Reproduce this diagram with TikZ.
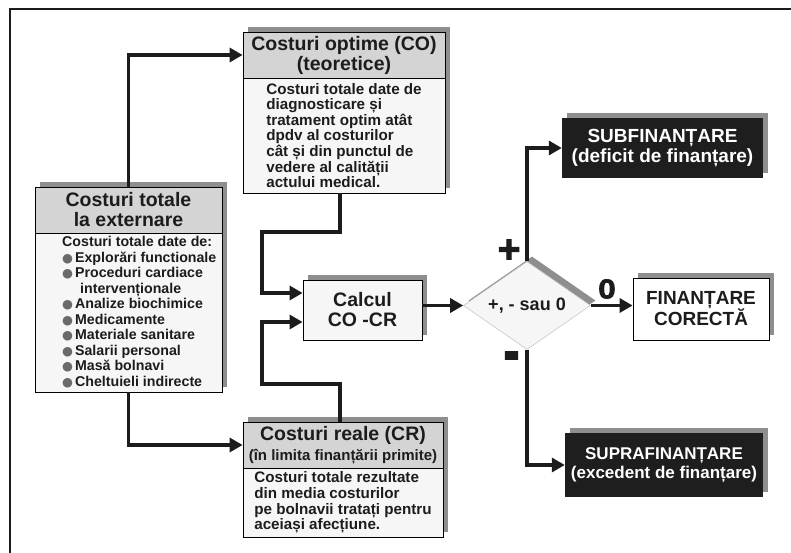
\documentclass[tikz,border=0pt]{standalone}
\usepackage{fontspec}
\usepackage{graphicx}
\setmainfont{Liberation Sans}
\newfontfamily\symbolfont{DejaVu Sans}
\newfontfamily\heavyfont{Liberation Sans Bold}[FakeBold=2.5]
\usetikzlibrary{arrows.meta,shapes.geometric,shadows}

\definecolor{ink}{HTML}{1C1C1C}
\definecolor{headfill}{HTML}{D4D4D4}
\definecolor{bodyfill}{HTML}{F6F6F6}
\definecolor{shade}{HTML}{8E8E8E}
\definecolor{darkfill}{HTML}{1E1E1E}
\definecolor{bulgray}{HTML}{6A6A6A}
\definecolor{diaedge}{HTML}{C8C8C8}

\newcommand{\headsize}{\fontsize{19.5pt}{20pt}\selectfont}
\newcommand{\bodysize}{\fontsize{15.2pt}{15.6pt}\selectfont}
\newcommand{\listsize}{\fontsize{14.2pt}{15.5pt}\selectfont}
\newcommand{\subsize}{\fontsize{15pt}{16pt}\selectfont}
\newcommand{\signsize}{\fontsize{26pt}{26pt}\selectfont}
\newcommand{\bul}{{\symbolfont\fontsize{12.5pt}{12.5pt}\selectfont\textcolor{bulgray}{●}}\hspace{2pt}}

\tikzset{
  boxline/.style={draw=black, line width=0.8pt},
  shadowed/.style={drop shadow={shadow xshift=5pt, shadow yshift=5pt, fill=shade, opacity=1}},
  headbox/.style={boxline, shadowed, fill=headfill, inner sep=0pt, align=center,
    text=ink, font=\headsize\bfseries},
  bodybox/.style={boxline, shadowed, fill=bodyfill, inner sep=0pt, align=left,
    text=ink, font=\bodysize\bfseries},
  listtext/.style={inner sep=0pt, align=left, text=ink, font=\listsize\bfseries},
  calcbox/.style={boxline, shadowed, fill=bodyfill, inner sep=0pt, align=center,
    text=ink, font=\headsize\bfseries},
  decision/.style={diamond, draw=diaedge, line width=0.6pt, fill=bodyfill, shadowed,
    inner sep=0pt, aspect=1.44, text=ink, font=\fontsize{18pt}{18pt}\selectfont\bfseries},
  darkbox/.style={shadowed, fill=darkfill, inner sep=0pt, align=center,
    text=white, font=\fontsize{19pt}{19.5pt}\selectfont\bfseries},
  lightbox/.style={boxline, shadowed, fill=white, inner sep=0pt, align=center,
    text=ink, font=\fontsize{19pt}{21pt}\selectfont\bfseries},
  flow/.style={draw=ink, line width=3.6pt, -{Triangle[length=13pt, width=14pt]}},
  signlabel/.style={inner sep=0pt, text=ink, font=\heavyfont\signsize},
}

\begin{document}
\begin{tikzpicture}[x=1pt, y=-1pt]
  \clip (0,0) rectangle (791,553);
  \fill[white] (0,0) rectangle (791,553);

  % outer frame
  \draw[ink, line width=2.6pt] (10,9) rectangle (830,590);

  % optimal costs
  \node[bodybox, minimum width=202pt, minimum height=115pt] (cobody) at (344,135.5)
    {Costuri totale date de\\diagnosticare și\\tratament optim atât\\dpdv al costurilor\\cât și din punctul de\\vedere al calității\\actului medical.};
  \node[headbox, minimum width=202pt, minimum height=46pt] (cohead) at (344,55)
    {Costuri optime (CO)\\(teoretice)};

  % total costs at discharge
  \node[bodybox, minimum width=187pt, minimum height=159pt] (totbody) at (128.5,312.5) {};
  \node[headbox, minimum width=187pt, minimum height=46pt] (tothead) at (128.5,210)
    {Costuri totale\\la externare};
  \node[listtext, anchor=west] (totlist) at (62,312)
    {Costuri totale date de:\\
     \bul Explorări functionale\\
     \bul Proceduri cardiace\\
     \hspace*{18pt}intervenționale\\
     \bul Analize biochimice\\
     \bul Medicamente\\
     \bul Materiale sanitare\\
     \bul Salarii personal\\
     \bul Masă bolnavi\\
     \bul Cheltuieli indirecte};

  % real costs
  \node[bodybox, minimum width=200pt, minimum height=69pt] (crbody) at (343,502.5)
    {Costuri totale rezultate\\din media costurilor\\pe bolnavii tratați pentru\\aceiași afecțiune.};
  \node[headbox, minimum width=200pt, minimum height=46pt] (crhead) at (343,445)
    {Costuri reale (CR)\\{\subsize(în limita finanțării primite)}};

  % difference and decision
  \node[calcbox, minimum width=119pt, minimum height=60pt] (calc) at (362.5,310)
    {Calcul\\CO -CR};
  \node[decision, minimum width=127pt, minimum height=88pt] (dia) at (527,305.5)
    {+, - sau 0};

  % outcomes
  \node[darkbox, minimum width=201pt, minimum height=60pt] (sub) at (662.5,148)
    {SUBFINANȚARE\\(deficit de finanțare)};
  \node[lightbox, minimum width=136pt, minimum height=62pt] (fin) at (701,309)
    {FINANȚARE\\CORECTĂ};
  \node[darkbox, minimum width=198pt, minimum height=64pt,
        font=\fontsize{17pt}{18.5pt}\selectfont\bfseries] (supra) at (664,465)
    {SUPRAFINANȚARE\\(excedent de finanțare)};

  % routing points
  \coordinate (bendA) at (262,232);
  \coordinate (bendB) at (262,384);

  % connectors
  \draw[flow] (tothead.north) |- (cohead.west);
  \draw[flow] (totbody.south) |- (crhead.west);
  \draw[flow] ([xshift=-4pt]cobody.south) |- (bendA) |- ([yshift=17pt]calc.west);
  \draw[flow] ([xshift=-3pt]crhead.north) |- (bendB) |- ([yshift=-12pt]calc.west);
  \draw[flow] (calc.east |- dia.west) -- (dia.west);
  \draw[flow] (dia.north) |- (sub.west);
  \draw[flow] (dia.east) -- (dia.east -| fin.west);
  \draw[flow] (dia.south) |- (supra.west);

  % branch signs
  \node[signlabel] (plus) at (509,251) {\scalebox{1.5}{+}};
  \node[signlabel] (zero) at (607,289) {\scalebox{1.2}[1.05]{0}};
  \node[signlabel] (minus) at (511.5,361.5) {\scalebox{1.85}[2.3]{-}};
\end{tikzpicture}
\end{document}
